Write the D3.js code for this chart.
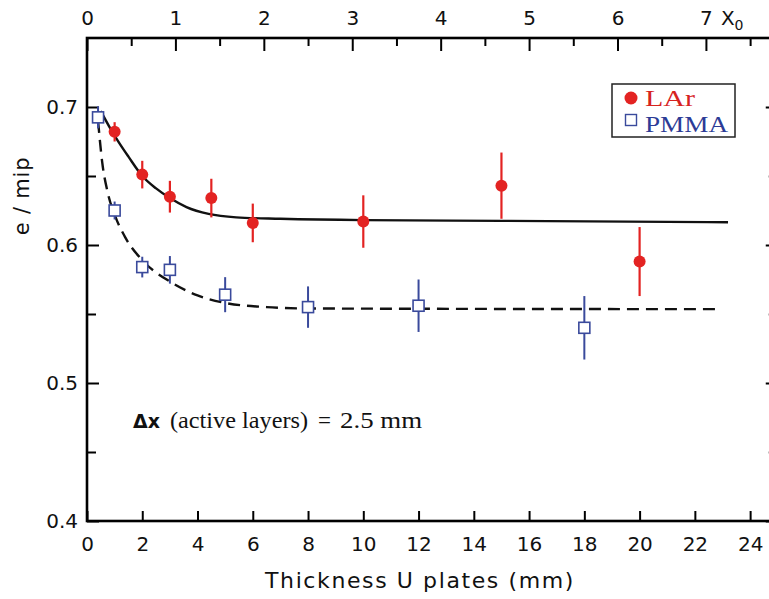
<!DOCTYPE html>
<html>
<head>
<meta charset="utf-8">
<script src="https://cdn.jsdelivr.net/npm/d3@7"></script>
<style>
  html, body { margin: 0; padding: 0; background: #fff; }
  svg { display: block; }
</style>
</head>
<body>
<div id="chart"></div>
<script>
// ---- data ----
const larX    = [1, 2, 3, 4.5, 6, 10, 15, 20];
const larY    = [0.682, 0.651, 0.635, 0.634, 0.616, 0.617, 0.643, 0.588];
const larErr  = [0.007, 0.010, 0.0115, 0.014, 0.014, 0.019, 0.024, 0.025];

const pmmaX   = [0.4, 1, 2, 3, 5, 8, 12, 18];
const pmmaY   = [0.6925, 0.625, 0.584, 0.582, 0.564, 0.555, 0.556, 0.540];
const pmmaErr = [0.008, 0.0065, 0.0075, 0.010, 0.0127, 0.015, 0.019, 0.023];

// fitted curves
const larFitX  = [0.5, 0.8, 1.1, 1.5, 2.0, 2.5, 3.0, 3.6, 4.4, 5.4, 7, 10, 15, 23.2];
const larFitY  = [0.697, 0.686, 0.676, 0.664, 0.650, 0.641, 0.634, 0.6275, 0.6225, 0.620, 0.619, 0.618, 0.6175, 0.6165];
const pmmaFitX = [0.4, 0.55, 0.75, 1.0, 1.4, 2.0, 3.0, 4.0, 5.0, 6.5, 8, 22.8];
const pmmaFitY = [0.690, 0.660, 0.638, 0.622, 0.605, 0.589, 0.5735, 0.5635, 0.558, 0.555, 0.554, 0.5535];

const xTicks     = [0, 2, 4, 6, 8, 10, 12, 14, 16, 18, 20, 22, 24];
const x0Major    = [0, 1, 2, 3, 4, 5, 6, 7];
const x0Minor    = [0.5, 1.5, 2.5, 3.5, 4.5, 5.5, 6.5, 7.5];
const yMajor     = [0.4, 0.5, 0.6, 0.7];
const yMinor     = [0.45, 0.55, 0.65];
const seriesNames = ["LAr", "PMMA"];

// ---- layout ----
const W = 769, H = 599;
const red = "#e32322", blue = "#3a4a9c", textBlue = "#2c3b96", textRed = "#d7231f";
const sansFont = "'DejaVu Sans', sans-serif";
const serifFont = "'Liberation Serif', 'Times New Roman', serif";

const x  = d3.scaleLinear().domain([0, 25]).range([87, 87 + 25 * 27.63]);
const x0 = d3.scaleLinear().domain([0, 25 / 3.2]).range(x.range());
const y  = d3.scaleLinear().domain([0.4, 0.75]).range([521, 38]);

const svg = d3.select("#chart").append("svg")
  .attr("width", W).attr("height", H)
  .style("font-family", sansFont);

function styleAxis(g) {
  g.select(".domain").remove();
  g.selectAll(".tick line").attr("stroke", "#000").attr("stroke-width", 2);
  g.selectAll(".tick text").attr("fill", "#111").style("font-family", sansFont).style("font-size", "20px");
}

// bottom axis
svg.append("g").attr("transform", `translate(0,${y(0.4)})`)
  .call(d3.axisBottom(x).tickValues(xTicks).tickSizeInner(-10).tickSizeOuter(0).tickPadding(16).tickFormat(d3.format("d")))
  .call(styleAxis);

// top axis (radiation lengths)
svg.append("g").attr("transform", `translate(0,${y(0.75)})`)
  .call(d3.axisTop(x0).tickValues(x0Major).tickSizeInner(-13).tickSizeOuter(0).tickPadding(13).tickFormat(d3.format("d")))
  .call(styleAxis);
svg.append("g").attr("transform", `translate(0,${y(0.75)})`)
  .call(d3.axisTop(x0).tickValues(x0Minor).tickSizeInner(-8).tickSizeOuter(0).tickFormat(""))
  .call(styleAxis);
const x0Label = svg.append("text")
  .attr("x", x0(7) + 15).attr("y", 25)
  .attr("fill", "#111").style("font-size", "20px");
x0Label.append("tspan").text("X");
x0Label.append("tspan").attr("dy", 5).style("font-size", "14px").text("0");

// left axis
svg.append("g").attr("transform", `translate(${x(0)},0)`)
  .call(d3.axisLeft(y).tickValues(yMajor).tickSizeInner(-12).tickSizeOuter(0).tickPadding(9).tickFormat(d3.format(".1f")))
  .call(styleAxis);
svg.append("g").attr("transform", `translate(${x(0)},0)`)
  .call(d3.axisLeft(y).tickValues(yMinor).tickSizeInner(-9).tickSizeOuter(0).tickFormat(""))
  .call(styleAxis);

// right axis (mostly outside the picture)
svg.append("g").attr("transform", `translate(${x(25)},0)`)
  .call(d3.axisRight(y).tickValues(yMajor).tickSizeInner(-12).tickSizeOuter(0).tickFormat(""))
  .call(styleAxis);
svg.append("g").attr("transform", `translate(${x(25)},0)`)
  .call(d3.axisRight(y).tickValues(yMinor).tickSizeInner(-9).tickSizeOuter(0).tickFormat(""))
  .call(styleAxis);

// frame
svg.append("rect")
  .attr("x", x(0)).attr("y", y(0.75))
  .attr("width", x(25) - x(0)).attr("height", y(0.4) - y(0.75))
  .attr("fill", "none").attr("stroke", "#000").attr("stroke-width", 2.6);

// axis titles
svg.append("text")
  .attr("x", 420).attr("y", 588)
  .attr("text-anchor", "middle")
  .attr("fill", "#111")
  .style("font-size", "22px").style("letter-spacing", "1.6px")
  .text("Thickness U plates (mm)");

svg.append("text")
  .attr("transform", "translate(29,196) rotate(-90)")
  .attr("text-anchor", "middle")
  .attr("fill", "#111")
  .style("font-size", "21px").style("letter-spacing", "0.8px")
  .text("e / mip");

// fit curves
const line = d3.line().x(d => x(d[0])).y(d => y(d[1])).curve(d3.curveMonotoneX);
svg.append("path")
  .datum(larFitX.map((v, i) => [v, larFitY[i]]))
  .attr("d", line).attr("fill", "none").attr("stroke", "#111").attr("stroke-width", 2.4);
svg.append("path")
  .datum(pmmaFitX.map((v, i) => [v, pmmaFitY[i]]))
  .attr("d", line).attr("fill", "none").attr("stroke", "#111").attr("stroke-width", 2.4)
  .attr("stroke-dasharray", "12,7");

// PMMA points
const pmma = pmmaX.map((v, i) => ({ x: v, y: pmmaY[i], e: pmmaErr[i] }));
const pg = svg.append("g");
pg.selectAll("line").data(pmma).join("line")
  .attr("x1", d => x(d.x)).attr("x2", d => x(d.x))
  .attr("y1", d => y(d.y + d.e)).attr("y2", d => y(d.y - d.e))
  .attr("stroke", blue).attr("stroke-width", 2);
pg.selectAll("rect").data(pmma).join("rect")
  .attr("x", d => x(d.x) - 5.5).attr("y", d => y(d.y) - 5.5)
  .attr("width", 11).attr("height", 11)
  .attr("fill", "#fff").attr("stroke", blue).attr("stroke-width", 1.6);

// LAr points
const lar = larX.map((v, i) => ({ x: v, y: larY[i], e: larErr[i] }));
const lg = svg.append("g");
lg.selectAll("line").data(lar).join("line")
  .attr("x1", d => x(d.x)).attr("x2", d => x(d.x))
  .attr("y1", d => y(d.y + d.e)).attr("y2", d => y(d.y - d.e))
  .attr("stroke", red).attr("stroke-width", 2.2);
lg.selectAll("circle").data(lar).join("circle")
  .attr("cx", d => x(d.x)).attr("cy", d => y(d.y)).attr("r", 6)
  .attr("fill", red);

// legend
const leg = svg.append("g");
leg.append("rect").attr("x", 612).attr("y", 84).attr("width", 123).attr("height", 53)
  .attr("fill", "#fff").attr("stroke", "#222").attr("stroke-width", 1.5);
leg.append("circle").attr("cx", 631).attr("cy", 98).attr("r", 6.5).attr("fill", red);
leg.append("rect").attr("x", 625.5).attr("y", 114.5).attr("width", 11).attr("height", 11)
  .attr("fill", "#fff").attr("stroke", blue).attr("stroke-width", 1.4);
leg.append("text").attr("x", 645).attr("y", 106).attr("fill", textRed)
  .style("font-family", serifFont).style("font-size", "24px")
  .attr("textLength", 50).attr("lengthAdjust", "spacingAndGlyphs").text(seriesNames[0]);
leg.append("text").attr("x", 645).attr("y", 132).attr("fill", textBlue)
  .style("font-family", serifFont).style("font-size", "24px")
  .attr("textLength", 83).attr("lengthAdjust", "spacingAndGlyphs").text(seriesNames[1]);

// annotation
const ann = svg.append("g").attr("fill", "#111");
ann.append("text").attr("x", 133).attr("y", 428)
  .style("font-family", sansFont).style("font-weight", "bold").style("font-size", "19px").text("Δx");
ann.append("text").attr("x", 170).attr("y", 428)
  .style("font-family", serifFont).style("font-size", "23px")
  .attr("textLength", 138).attr("lengthAdjust", "spacingAndGlyphs").text("(active layers)");
ann.append("text").attr("x", 318).attr("y", 428)
  .style("font-family", serifFont).style("font-size", "23px").text("=");
ann.append("text").attr("x", 340).attr("y", 428)
  .style("font-family", serifFont).style("font-size", "23px")
  .attr("textLength", 82).attr("lengthAdjust", "spacingAndGlyphs").text("2.5 mm");
</script>
</body>
</html>
